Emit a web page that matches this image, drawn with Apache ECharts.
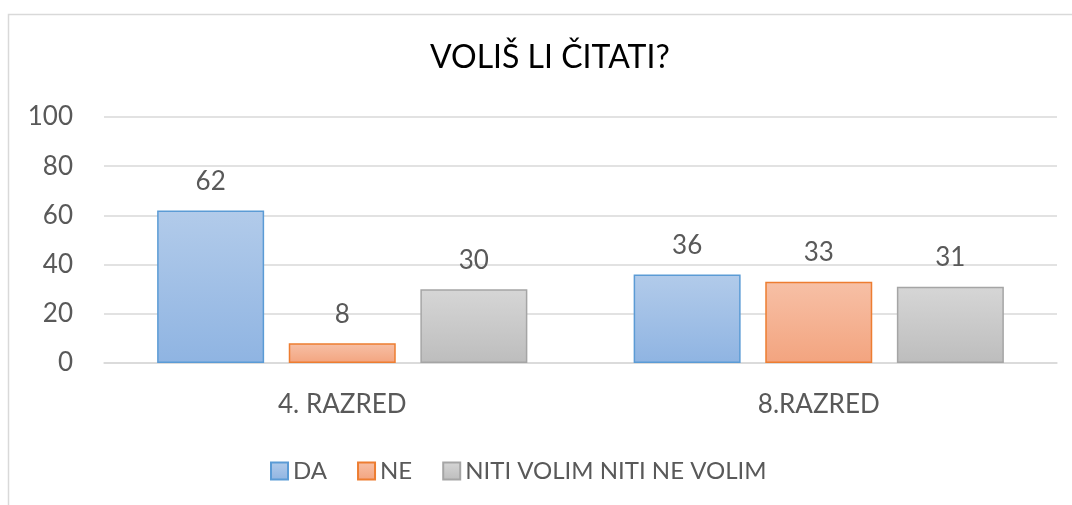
<!DOCTYPE html>
<html>
<head>
  <meta charset="utf-8">
  <script src="https://cdn.jsdelivr.net/npm/echarts@6/dist/echarts.min.js"></script>
</head>
<body style="margin:0;background:#fff;">
<div id="main" style="width:1072px;height:505px;"></div>
<script type="text/javascript">
var categories = ['4. RAZRED', '8.RAZRED'];
var seriesNames = ['DA', 'NE', 'NITI VOLIM NITI NE VOLIM'];
var daValues = [62, 36];
var neValues = [8, 33];
var nitiValues = [30, 31];
var yTicks = [0, 20, 40, 60, 80, 100];

var fontFam = 'Lato, "Open Sans", sans-serif';

var grad = function (top, bottom) {
    return new echarts.graphic.LinearGradient(0, 0, 0, 1, [
        {offset: 0, color: top},
        {offset: 1, color: bottom}
    ]);
};

var styles = [
    {fill: grad('#b2cbea', '#8fb4e2'), border: '#5b9bd5'},
    {fill: grad('#f7c0a6', '#f3a47f'), border: '#ed7d31'},
    {fill: grad('#d6d6d6', '#bdbdbd'), border: '#a5a5a5'}
];
var values = [daValues, neValues, nitiValues];

var series = seriesNames.map(function (name, i) {
    return {
        name: name,
        type: 'bar',
        data: values[i],
        barWidth: 107,
        barGap: '23%',
        itemStyle: {
            color: styles[i].fill,
            borderColor: styles[i].border,
            borderWidth: 1.5
        },
        label: {
            show: true,
            position: 'top',
            distance: 16,
            color: '#595959',
            fontSize: 26,
            fontFamily: fontFam
        }
    };
});

var myChart = echarts.init(document.getElementById('main'));
myChart.setOption({
    animation: false,
    graphic: [{
        type: 'rect',
        shape: {x: 8.5, y: 14.5, width: 1100, height: 600},
        style: {fill: 'none', stroke: '#d9d9d9', lineWidth: 1.5},
        silent: true
    }],
    title: {
        text: 'VOLIŠ LI ČITATI?',
        left: 425,
        top: 37,
        textStyle: {
            color: '#000',
            fontSize: 32,
            fontWeight: 'normal',
            fontFamily: fontFam
        }
    },
    legend: {
        top: 454,
        left: 265,
        icon: 'rect',
        itemWidth: 17,
        itemHeight: 17,
        itemGap: 30,
        textStyle: {
            color: '#595959',
            fontSize: 24,
            fontFamily: fontFam
        },
        data: seriesNames
    },
    grid: {
        left: 104,
        right: 15,
        top: 117,
        bottom: 142
    },
    xAxis: {
        type: 'category',
        data: categories,
        axisLine: {show: true, lineStyle: {color: '#d9d9d9', width: 1.5}},
        axisTick: {show: false},
        axisLabel: {
            color: '#595959',
            fontSize: 26,
            fontFamily: fontFam,
            margin: 29
        }
    },
    yAxis: {
        type: 'value',
        min: yTicks[0],
        max: yTicks[yTicks.length - 1],
        interval: 20,
        axisLine: {show: false},
        axisTick: {show: false},
        splitLine: {lineStyle: {color: '#d9d9d9', width: 1.5}},
        axisLabel: {
            color: '#595959',
            fontSize: 26,
            fontFamily: fontFam,
            margin: 31
        }
    },
    series: series
});
</script>
</body>
</html>
